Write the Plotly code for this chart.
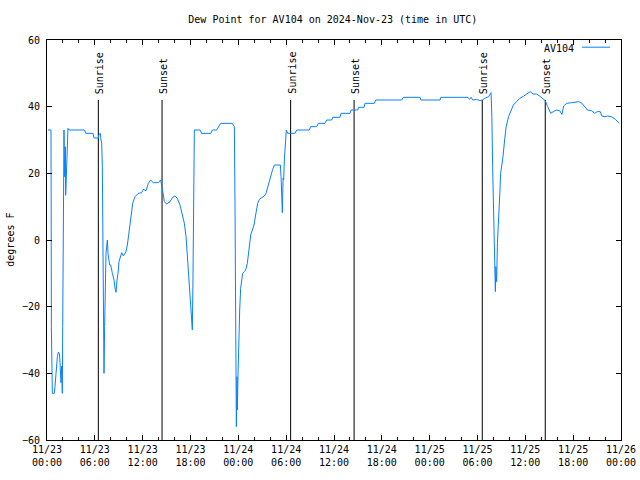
import pandas as pd
import plotly.graph_objects as go

start = pd.Timestamp("2024-11-23 00:00")

# hours since 2024-11-23 00:00 UTC
hours = [0.12, 0.50, 0.52, 0.55, 0.67, 0.92, 1.00, 1.09, 1.21, 1.30, 1.42, 1.55, 1.63, 1.76, 1.84, 1.92,
         1.97, 2.05, 2.13, 2.22, 2.30, 2.34, 2.43, 2.51, 2.63, 2.76, 4.72, 4.85, 5.77, 5.90, 6.44, 6.52,
         6.69, 6.77, 6.86, 6.94, 7.02, 7.07, 7.15, 7.23, 7.32, 7.40, 7.57, 7.65, 7.86, 7.99, 8.20, 8.40,
         8.53, 8.66, 8.78, 8.91, 9.03, 9.24, 9.37, 9.58, 9.91, 10.08, 10.29, 10.49, 10.62, 10.75, 11.04,
         11.45, 11.88, 12.08, 12.42, 12.71, 13.0, 13.34, 13.97, 14.26, 14.43, 14.60, 14.72, 15.01, 15.43,
         15.77, 16.06, 16.35, 16.68, 16.98, 17.23, 17.44, 17.65, 17.81, 17.98, 18.10, 18.23, 18.31, 18.40,
         18.48, 19.2, 19.4, 20.57, 20.74, 21.28, 21.49, 21.78, 23.25, 23.50, 23.58, 23.67, 23.75, 23.83,
         23.88, 23.96, 24.04, 24.17, 24.29, 24.42, 24.54, 24.75, 24.92, 25.13, 25.25, 25.42, 25.55, 25.76,
         25.97, 26.17, 26.30, 26.43, 26.64, 26.93, 27.26, 27.47, 27.64, 27.89, 28.10, 28.31, 28.52, 29.27,
         29.36, 29.44, 29.52, 29.61, 29.69, 29.77, 29.90, 30.02, 30.19, 31.11, 31.32, 32.9, 33.07, 33.83,
         34.04, 34.87, 35.08, 35.71, 35.84, 36.75, 36.88, 38.01, 38.13, 38.97, 39.10, 39.77, 39.89, 41.06,
         41.23, 44.49, 44.70, 46.79, 46.9, 49.3, 49.4, 52.8, 53.0, 53.2, 53.4, 53.9, 54.3, 54.6, 54.9, 55.4,
         55.7, 55.8, 55.9, 56.0, 56.1, 56.24, 56.3, 56.4, 56.5, 56.6, 56.8, 56.9, 57.2, 57.4, 57.6, 57.9,
         58.2, 58.5, 58.9, 59.3, 59.8, 60.2, 60.6, 61.0, 61.4, 61.9, 62.5, 62.8, 63.2, 63.5, 63.9, 64.3,
         64.6, 64.8, 65.2, 65.8, 66.7, 67.1, 67.5, 67.8, 68.3, 68.7, 69.0, 69.4, 69.6, 70.0, 70.3, 70.8,
         71.3, 71.8]

dew_point = [33, 33, 13, -26, -46, -46, -44, -41, -38, -35, -33.6, -34, -36.8, -42.8, -37.8, -46,
             -26, 13, 33, 19, 28, 13.4, 19, 29, 33.5, 33, 33, 32, 32, 30.6, 30.6, 31.6,
             32, 30, 29, 22, 4, -25, -40, -26, -14.4, -4, 0, -4, -7.5, -7.5, -10, -12,
             -14.4, -15.7, -12, -10, -6.5, -4.5, -3.8, -4.8, -3.5, -1.5, 2, 5, 8.5, 11, 13,
             14, 14.2, 15.2, 14.8, 17, 18, 17.2, 17.2, 18, 16.2, 13.5, 11.5, 10.8, 11.5,
             12.8, 13.2, 12.5, 10.5, 7.5, 5, 1, -5, -12, -18, -24, -27, -12, 18,
             33, 33, 32, 32, 33, 33, 34, 35, 35, 34, 11.5, -33.5, -56, -41,
             -51, -40.5, -31.5, -21, -14.5, -12, -10, -9.5, -9, -7, -4.5, -1, 1.5, 3,
             4.5, 7.5, 9.5, 11, 12.2, 12.8, 13.2, 14, 15.5, 18, 19.5, 21.2, 22.5, 22.5,
             19, 12, 8.2, 18.5, 18, 24, 30, 33, 32, 32, 33, 33, 34, 34,
             35, 35, 36, 36, 36.8, 36.8, 38, 38, 39, 39, 39.8, 39.8, 41, 41,
             42, 42, 42.8, 42.8, 42, 42, 42.8, 42.8, 42.2, 42.8, 42, 42.2, 41.8, 42, 42.5, 43,
             44.2, 37, 22, 7, -7.5, -15.5, -8, -12.5, -1, 6, 14, 20, 25, 30, 34, 37,
             39, 40.5, 41.5, 42.5, 43.2, 43.8, 44.5, 43.8, 43.8, 43, 41.8, 40, 38, 38.5, 39, 38.8,
             37.7, 40.2, 41, 41.2, 41.5, 41, 40, 39, 38.8, 38, 38.5, 38.5, 37.2, 37, 37.2, 37,
             36.2, 35]

event_labels = ["Sunrise", "Sunset", "Sunrise", "Sunset", "Sunrise", "Sunset"]
event_hours = [6.44, 14.43, 30.56, 38.52, 54.6, 62.5]
event_top = 42

y_ticks = [-60, -40, -20, 0, 20, 40, 60]

times = [start + pd.Timedelta(hours=h) for h in hours]
ev_times = [start + pd.Timedelta(hours=h) for h in event_hours]

FONT = "DejaVu Sans Mono"
fig = go.Figure()

for t in ev_times:
    fig.add_trace(go.Scatter(x=[t, t], y=[-60, event_top], mode="lines",
                             line=dict(color="black", width=1), showlegend=False, hoverinfo="skip"))

fig.add_trace(go.Scatter(x=times, y=dew_point, mode="lines", name="AV104",
                         line=dict(color="#0a80ff", width=1), showlegend=False))

for t, lab in zip(ev_times, event_labels):
    fig.add_annotation(x=t, y=event_top, text=lab, textangle=-90, showarrow=False,
                       xanchor="center", yanchor="bottom", yshift=4, xshift=1,
                       font=dict(family=FONT, size=10, color="black"))

# legend (gnuplot style: text then line sample)
fig.add_annotation(xref="paper", yref="paper", x=0.922, y=0.98, text="AV104", showarrow=False,
                   xanchor="right", yanchor="middle", font=dict(family=FONT, size=10, color="black"))
fig.add_shape(type="line", xref="paper", yref="paper", x0=0.932, x1=0.981, y0=0.982, y1=0.982,
              line=dict(color="#0a80ff", width=1))

fig.add_annotation(xref="paper", yref="paper", x=-0.065, y=0.5, text="degrees F", textangle=-90,
                   showarrow=False, xanchor="center", yanchor="middle",
                   font=dict(family=FONT, size=10, color="black"))

fig.update_layout(
    width=640, height=480,
    margin=dict(l=47, r=19, t=40, b=40, autoexpand=False),
    paper_bgcolor="white", plot_bgcolor="white",
    title=dict(text="Dew Point for AV104 on 2024-Nov-23 (time in UTC)", x=0.52, xanchor="center",
               y=0.96, yanchor="middle", font=dict(family=FONT, size=10, color="black")),
    font=dict(family=FONT, size=10, color="black"),
    showlegend=False,
)
fig.update_xaxes(
    range=[start, start + pd.Timedelta(hours=72)], automargin=False,
    dtick=6 * 3600 * 1000, tick0=start, tickformat="%m/%d<br>%H:%M",
    ticks="inside", ticklen=5, tickcolor="black", tickwidth=1,
    minor=dict(dtick=2 * 3600 * 1000, ticks="inside", ticklen=3, tickcolor="black", showgrid=False),
    showline=True, linecolor="black", linewidth=1, mirror="ticks",
    showgrid=False, zeroline=False,
)
fig.update_yaxes(
    range=[-60, 60], tickvals=y_ticks, automargin=False,
    ticks="inside", ticklen=5, tickcolor="black", tickwidth=1,
    showline=True, linecolor="black", linewidth=1, mirror="ticks",
    showgrid=False, zeroline=False, ticklabelstandoff=4,
)

fig.write_html("out.html", config={"displayModeBar": False},
               post_script="document.body.style.margin='0';document.body.style.overflow='hidden';")
